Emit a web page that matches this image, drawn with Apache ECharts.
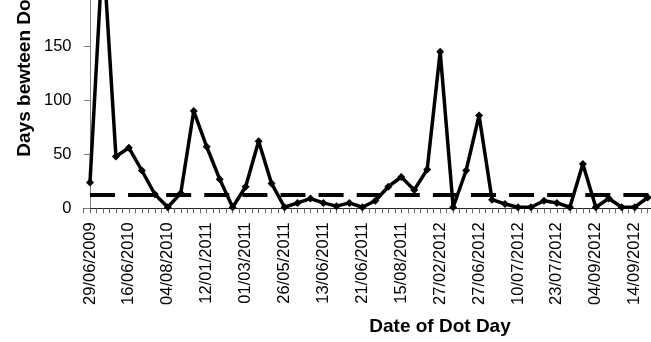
<!DOCTYPE html>
<html>
<head>
<meta charset="utf-8">
<script src="https://cdn.jsdelivr.net/npm/echarts@6/dist/echarts.min.js"></script>
<style>
html,body{margin:0;padding:0;background:#fff;}
#chart{width:651px;height:342px;}
</style>
</head>
<body>
<div id="chart"></div>
<script>
// Tick labels shown on every third category
const tickLabels = ['29/06/2009','16/06/2010','04/08/2010','12/01/2011','01/03/2011','26/05/2011','13/06/2011','21/06/2011','15/08/2011','27/02/2012','27/06/2012','10/07/2012','23/07/2012','04/09/2012','14/09/2012'];
const labelEvery = 3;
// Days between consecutive Dot Days
const daysBetween = [24,242,48,56,35,13,1,14,90,57,27,1,20,62,23,1,5,9,5,2,5,1,7,20,29,17,36,145,1,35,86,8,4,1,1,7,5,1,41,1,9,1,1,10];
const threshold = 13;
const yTicks = [0,50,100,150,200,250];

const xMax = 44.5;
const FONT = '"Liberation Sans", Arial, sans-serif';

const chart = echarts.init(document.getElementById('chart'), null, {renderer:'canvas'});
chart.setOption({
  animation:false,
  backgroundColor:'#fff',
  grid:{left:83.5, top:-61.7, height:270, width:583.65, containLabel:false, outerBoundsMode:'none'},
  xAxis:{
    type:'value', min:-0.5, max:xMax, interval:0.5,
    splitLine:{show:false},
    axisLine:{show:true, lineStyle:{color:'#222', width:1}},
    axisTick:{show:true, length:5, inside:false, lineStyle:{color:'#666'}},
    axisLabel:{
      rotate:90, margin:14, fontSize:16.5, color:'#000', fontFamily:FONT,
      showMinLabel:true, showMaxLabel:true,
      formatter:function(v){
        if (Math.abs(v-Math.round(v))>1e-6) return '';
        const r = Math.round(v);
        if (r % labelEvery !== 0) return '';
        return tickLabels[r/labelEvery] || '';
      }
    }
  },
  yAxis:{
    type:'value', min:yTicks[0], max:yTicks[yTicks.length-1], interval:50,
    splitLine:{show:false},
    axisLine:{show:true, lineStyle:{color:'#808080', width:1}},
    axisTick:{show:true, length:6, lineStyle:{color:'#808080'}},
    axisLabel:{margin:12, fontSize:16.5, color:'#000', fontFamily:FONT}
  },
  graphic:[
    {type:'text', x:440, y:326.7, style:{text:'Date of Dot Day', font:'bold 19px '+FONT, fill:'#000', textAlign:'center', textVerticalAlign:'middle'}},
    {type:'text', x:24.4, y:49.5, rotation:Math.PI/2, style:{text:'Days bewteen Dot Days', font:'bold 19px '+FONT, fill:'#000', textAlign:'center', textVerticalAlign:'middle'}}
  ],
  series:[
    {
      type:'line',
      data:daysBetween.map((v,i)=>[i,v]),
      symbol:'diamond', symbolSize:8,
      clip:false,
      itemStyle:{color:'#000'},
      lineStyle:{color:'#000', width:3.5, join:'round', cap:'round'},
      z:3
    },
    {
      type:'line', data:[], silent:true,
      markLine:{
        silent:true, symbol:'none', label:{show:false},
        lineStyle:{color:'#000', width:4, type:[25,13.1], cap:'butt'},
        emphasis:{disabled:true},
        data:[[{coord:[0,threshold]},{coord:[xMax,threshold]}]]
      },
      z:2
    }
  ]
});
</script>
</body>
</html>
